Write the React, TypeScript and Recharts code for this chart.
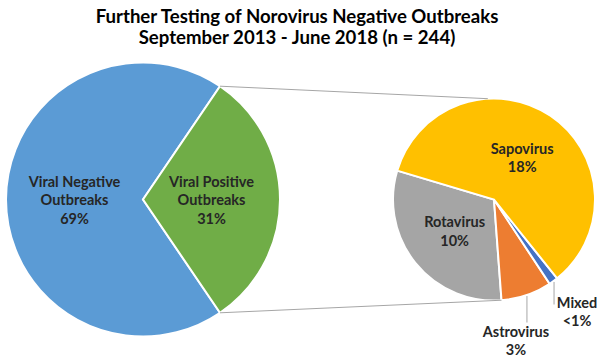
import React from "react";
import { PieChart, Pie, Cell } from "recharts";

// main pie (all tested outbreaks)
const mainNames = ["Viral Negative Outbreaks", "Viral Positive Outbreaks"];
const mainLines = [["Viral Negative", "Outbreaks"], ["Viral Positive", "Outbreaks"]];
const mainValues = [69, 31];
const mainLabels = ["69%", "31%"];
const mainColors = ["#5B9BD5", "#70AD47"];

// breakdown of the viral positive slice
const subNames = ["Rotavirus", "Astrovirus", "Mixed", "Sapovirus"];
const subValues = [9.5, 2.5, 0.45, 18.4];
const subLabels = ["10%", "3%", "<1%", "18%"];
const subColors = ["#A5A5A5", "#ED7D31", "#4472C4", "#FFC000"];

const titleLines = [
  "Further Testing of Norovirus Negative Outbreaks",
  "September 2013 - June 2018 (n = 244)",
];

const W = 600;
const H = 361;
const FONT = "Lato, 'Open Sans', sans-serif";
const TEXT = "#262626";
const LABEL_SIZE = 14.5;
const RAD = Math.PI / 180;

const main = { cx: 143, cy: 199.5, r: 137 };
const sub = { cx: 494, cy: 199.5, r: 101, start: 163.4 };

const mainData = mainNames.map((name, i) => ({
  name,
  value: mainValues[i],
  lines: [...mainLines[i], mainLabels[i]],
}));
const subData = subNames.map((name, i) => ({
  name,
  value: subValues[i],
  lines: [name, subLabels[i]],
}));

const mainStart = 180 - (mainValues[0] / 100) * 180;

const polar = (cx: number, cy: number, r: number, a: number) => ({
  x: cx + r * Math.cos(-a * RAD),
  y: cy + r * Math.sin(-a * RAD),
});

const InsideLabel = (props: any) => {
  const { cx, cy, midAngle, outerRadius, payload } = props;
  const p = polar(cx, cy, outerRadius * 0.5, midAngle);
  const lines: string[] = payload.lines;
  const gap = 18.5;
  const y0 = p.y - ((lines.length - 1) * gap) / 2;
  return (
    <text textAnchor="middle" fill={TEXT} fontFamily={FONT} fontWeight={700} fontSize={LABEL_SIZE}>
      {lines.map((l, i) => (
        <tspan key={i} x={p.x} y={y0 + i * gap} dominantBaseline="central">
          {l}
        </tspan>
      ))}
    </text>
  );
};

const SubLabel = (props: any) => {
  const { cx, cy, midAngle, outerRadius, payload } = props;
  const lines: string[] = payload.lines;
  if (payload.name === "Astrovirus" || payload.name === "Mixed") {
    const a = polar(cx, cy, outerRadius + 1, midAngle);
    const isMixed = payload.name === "Mixed";
    const endY = isMixed ? cy + outerRadius + 4 : cy + outerRadius + 22;
    const tx = isMixed ? a.x + 23 : a.x - 11;
    const ty = isMixed ? endY - 2.5 : endY + 8.5;
    return (
      <g>
        <line x1={a.x} y1={a.y} x2={a.x} y2={endY} stroke="#A6A6A6" strokeWidth={1} />
        <text textAnchor="middle" fill={TEXT} fontFamily={FONT} fontWeight={700} fontSize={LABEL_SIZE}>
          {lines.map((l, i) => (
            <tspan key={i} x={tx} y={ty + i * 18.5} dominantBaseline="central">
              {l}
            </tspan>
          ))}
        </text>
      </g>
    );
  }
  return <InsideLabel {...props} />;
};

export default function App() {
  const subTotal = subValues.reduce((s, v) => s + v, 0);
  const rotaEnd = sub.start + (subValues[0] / subTotal) * 360;
  const lTop = polar(main.cx, main.cy, main.r, mainStart);
  const lBot = polar(main.cx, main.cy, main.r, -mainStart);
  const rTop = polar(sub.cx, sub.cy, sub.r, 93.5);
  const rBot = polar(sub.cx, sub.cy, sub.r, rotaEnd);

  return (
    <div style={{ position: "absolute", left: 0, top: 0, width: W, height: H, background: "#fff" }}>
      <PieChart width={W} height={H} margin={{ top: 0, right: 0, bottom: 0, left: 0 }}>
        <Pie
          data={mainData}
          dataKey="value"
          nameKey="name"
          cx={main.cx}
          cy={main.cy}
          outerRadius={main.r}
          startAngle={mainStart}
          endAngle={mainStart + 360}
          stroke="#fff"
          strokeWidth={2}
          label={InsideLabel}
          labelLine={false}
          isAnimationActive={false}
        >
          {mainData.map((d, i) => (
            <Cell key={d.name} fill={mainColors[i]} />
          ))}
        </Pie>
        <Pie
          data={subData}
          dataKey="value"
          nameKey="name"
          cx={sub.cx}
          cy={sub.cy}
          outerRadius={sub.r}
          startAngle={sub.start}
          endAngle={sub.start + 360}
          stroke="#fff"
          strokeWidth={2}
          label={SubLabel}
          labelLine={false}
          isAnimationActive={false}
        >
          {subData.map((d, i) => (
            <Cell key={d.name} fill={subColors[i]} />
          ))}
        </Pie>
      </PieChart>
      <svg
        width={W}
        height={H}
        style={{ position: "absolute", left: 0, top: 0, pointerEvents: "none" }}
      >
        <line x1={lTop.x} y1={lTop.y} x2={rTop.x} y2={rTop.y} stroke="#A6A6A6" strokeWidth={1} />
        <line x1={lBot.x} y1={lBot.y} x2={rBot.x} y2={rBot.y} stroke="#A6A6A6" strokeWidth={1} />
        {titleLines.map((t, i) => (
          <text
            key={t}
            x={297}
            y={22.7 + i * 21.6}
            textAnchor="middle"
            fill="#000"
            fontFamily={FONT}
            fontWeight={700}
            fontSize={18.6}
          >
            {t}
          </text>
        ))}
      </svg>
    </div>
  );
}
